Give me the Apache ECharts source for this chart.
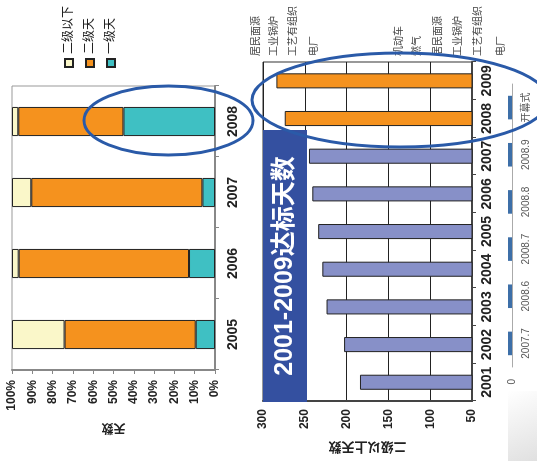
<!DOCTYPE html>
<html><head><meta charset="utf-8">
<script src="https://cdn.jsdelivr.net/npm/echarts@6/dist/echarts.min.js"></script>
<style>
html,body{margin:0;padding:0;width:537px;height:461px;overflow:hidden;background:#fff;}
#wrap{position:absolute;left:0;top:0;width:461px;height:537px;transform-origin:0 0;transform:translate(0,461px) rotate(-90deg);}
</style></head><body>
<div id="wrap"></div>
<script>
// ---- data: chart 1 (share of days, %) ----
const shareYears = ['2005', '2006', '2007', '2008'];
const level1Share = [9.5, 12.8, 6.2, 45.1];    // 一级天
const level2Share = [64.6, 83.9, 84.3, 51.8];  // 二级天
const belowShare  = [25.9, 3.3, 9.5, 3.1];     // 二级以下
const shareSeriesNames = ['二级以下', '二级天', '一级天'];

// ---- data: chart 2 (days of grade II or better) ----
const dayYears = ['2001', '2002', '2003', '2004', '2005', '2006', '2007', '2008', '2009'];
const goodDays = [184, 203, 224, 229, 234, 241, 245, 274, 284];
const highlightYears = ['2008', '2009'];

// ---- data: cut-off chart strip at the slide edge (only bar bases visible) ----
const miniCategories = ['2007.7', '2008.6', '2008.7', '2008.8', '2008.9', '开幕式'];
const miniValues = [1, 1, 1, 1, 1, 1];

// ---- cut-off source labels of another slide element ----
const sourceLabels = ['居民面源', '工业锅炉', '工艺有组织', '电厂', '机动车', '燃气', '居民面源', '工业锅炉', '工艺有组织', '电厂'];
const sourceLabelY = [255, 273, 292, 313, 398, 416, 437, 457, 477, 500];

const FONT = '"Liberation Sans", Arial, "Noto Sans CJK SC", sans-serif';
const C_PALE = '#faf7c9', C_ORANGE = '#f5921e', C_TEAL = '#3fc0c3', C_LAV = '#8790c8', C_BLUE = '#2a5aa8';

const chart = echarts.init(document.getElementById('wrap'), null, {renderer: 'canvas'});

const barBorder = {borderColor: '#222', borderWidth: 1};

const option = {
  animation: false,
  backgroundColor: '#fff',
  textStyle: {fontFamily: FONT},
  legend: {
    orient: 'vertical', left: 388, top: 58, itemWidth: 8, itemHeight: 8, itemGap: 9,
    data: shareSeriesNames,
    textStyle: {fontSize: 12, color: '#222', fontFamily: FONT},
    icon: 'rect'
  },
  grid: [
    {left: 91, right: 86, top: 12, bottom: 322, show: true, borderColor: '#999', borderWidth: 1},
    {left: 56, right: 62, top: 263, bottom: 65, show: true, borderColor: '#333', borderWidth: 1},
    {left: 94, right: 84, top: 508, bottom: 25}
  ],
  xAxis: [
    {gridIndex: 0, type: 'category', data: shareYears,
     axisLine: {lineStyle: {color: '#888', width: 2}},
     axisTick: {show: true, length: 4, lineStyle: {color: '#888'}},
     axisLabel: {interval: 0, fontSize: 14, fontWeight: 'bold', color: '#222', margin: 11}},
    {gridIndex: 1, type: 'category', data: dayYears,
     axisLine: {lineStyle: {color: '#444', width: 2}},
     axisTick: {show: true, length: 4, lineStyle: {color: '#444'}},
     axisLabel: {interval: 0, fontSize: 14, fontWeight: 'bold', color: '#222', margin: 8}},
    {gridIndex: 2, type: 'category', data: miniCategories,
     axisLine: {lineStyle: {color: '#aaa', width: 1}},
     axisTick: {show: false},
     axisLabel: {interval: 0, fontSize: 10, color: '#555', margin: 9}}
  ],
  yAxis: [
    {gridIndex: 0, type: 'value', min: 0, max: 100, interval: 10,
     name: '天数', nameLocation: 'middle', nameGap: 40,
     nameTextStyle: {fontSize: 12, fontWeight: 'bold', color: '#222'},
     axisLine: {show: true, lineStyle: {color: '#888', width: 2}},
     axisTick: {show: true, length: 4, lineStyle: {color: '#888'}},
     splitLine: {show: false},
     axisLabel: {formatter: '{value}%', fontSize: 12, fontWeight: 'bold', color: '#222', margin: 10}},
    {gridIndex: 1, type: 'value', min: 50, max: 300, interval: 50,
     name: '二级以上天数', nameLocation: 'middle', nameGap: 38,
     nameTextStyle: {fontSize: 13, fontWeight: 'bold', color: '#222'},
     axisLine: {show: true, lineStyle: {color: '#444', width: 2}},
     axisTick: {show: false},
     splitLine: {show: true, lineStyle: {color: '#222', width: 1}},
     axisLabel: {fontSize: 12, fontWeight: 'bold', color: '#222', margin: 8}},
    {gridIndex: 2, type: 'value', min: 0, max: 1, interval: 1,
     axisLine: {show: false}, axisTick: {show: false}, splitLine: {show: false},
     axisLabel: {fontSize: 10, color: '#555', margin: 12, formatter: v => (v === 0 ? '0' : '')}}
  ],
  series: [
    {name: '一级天', type: 'bar', stack: 'share', xAxisIndex: 0, yAxisIndex: 0, barWidth: '41%',
     data: level1Share, itemStyle: Object.assign({color: C_TEAL}, barBorder)},
    {name: '二级天', type: 'bar', stack: 'share', xAxisIndex: 0, yAxisIndex: 0, barWidth: '41%',
     data: level2Share, itemStyle: Object.assign({color: C_ORANGE}, barBorder)},
    {name: '二级以下', type: 'bar', stack: 'share', xAxisIndex: 0, yAxisIndex: 0, barWidth: '41%',
     data: belowShare, itemStyle: Object.assign({color: C_PALE}, barBorder)},
    {name: '二级以上天数', type: 'bar', xAxisIndex: 1, yAxisIndex: 1, barWidth: '40%',
     data: goodDays.map((v, i) => ({value: v, itemStyle: {color: highlightYears.includes(dayYears[i]) ? C_ORANGE : C_LAV}})),
     itemStyle: Object.assign({}, barBorder)},
    {name: 'mini', type: 'bar', xAxisIndex: 2, yAxisIndex: 2, barWidth: '50%', clip: true,
     data: miniValues, itemStyle: {color: '#3d6fa8'}}
  ],
  graphic: [].concat(
    sourceLabels.map((t, i) => ({
      type: 'text', z: 1,
      style: {text: t, x: 405, y: sourceLabelY[i], fill: '#444', fontSize: 10, fontFamily: '"Noto Sans CJK SC", sans-serif', verticalAlign: 'middle', align: 'left'}
    })),
    [
      {type: 'rect', z: 1, shape: {x: 0, y: 508, width: 70, height: 29},
       style: {fill: new echarts.graphic.LinearGradient(1, 0, 0, 1, [{offset: 0, color: '#ffffff'}, {offset: 1, color: '#e0e0e0'}])}},
      {type: 'rect', z: 100, shape: {x: 59, y: 263, width: 272, height: 44}, style: {fill: '#3450a0'}},
      {type: 'text', z: 101, style: {text: '2001-2009达标天数', x: 195, y: 285, align: 'center', verticalAlign: 'middle',
        fill: '#fff', fontSize: 25, fontWeight: 'bold', fontFamily: FONT}},
      {type: 'ellipse', z: 102, shape: {cx: 340.5, cy: 168.5, rx: 34.5, ry: 84.5}, style: {fill: null, stroke: C_BLUE, lineWidth: 3}},
      {type: 'ellipse', z: 102, shape: {cx: 361, cy: 400, rx: 47, ry: 148}, style: {fill: null, stroke: C_BLUE, lineWidth: 3}}
    ]
  )
};
chart.setOption(option);
</script>
</body></html>
